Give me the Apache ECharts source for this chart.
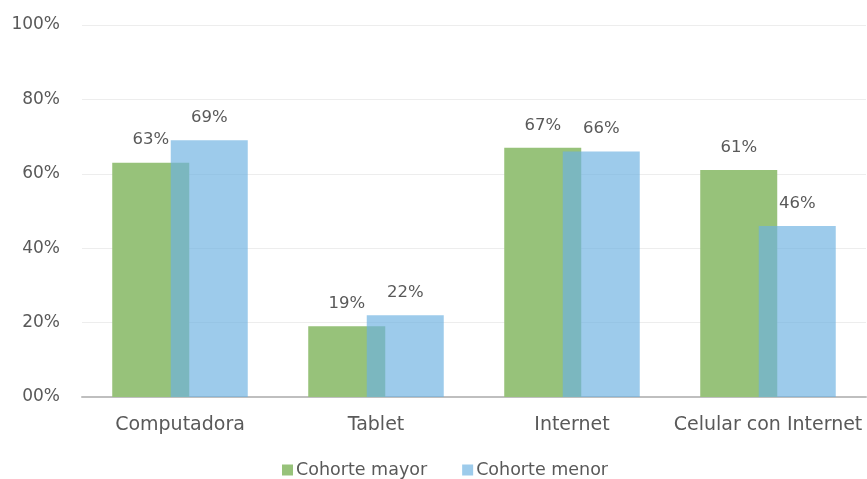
<!DOCTYPE html>
<html>
<head>
<meta charset="utf-8">
<script src="https://cdn.jsdelivr.net/npm/echarts@6/dist/echarts.min.js"></script>
<style>
  html, body { margin: 0; padding: 0; background: #fff; }
  #chart { width: 867px; height: 479px; }
</style>
</head>
<body>
<div id="chart"></div>
<script>
/* datos */
var categorias = ['Computadora', 'Tablet', 'Internet', 'Celular con Internet'];
var cohorteMayor = [63, 19, 67, 61];
var cohorteMenor = [69, 22, 66, 46];
var ticksY = [0, 20, 40, 60, 80, 100];

var grisTexto = '#595959';
var fuente = 'DejaVu Sans';

function etiquetaPct(v) {
    return v === 0 ? '00%' : v + '%';
}

var chart = echarts.init(document.getElementById('chart'));

var option = {
    animation: false,
    textStyle: { fontFamily: fuente, color: grisTexto },
    grid: { left: 82, right: 1, top: 25, bottom: 82, containLabel: false },
    legend: {
        top: 456,
        left: 277,
        itemWidth: 11,
        itemHeight: 11,
        itemGap: 35,
        icon: 'rect',
        textStyle: { fontFamily: fuente, fontSize: 17.5, color: grisTexto, padding: [0, 0, 0, -2] },
        data: ['Cohorte mayor', 'Cohorte menor']
    },
    xAxis: {
        type: 'category',
        data: categorias,
        axisTick: { show: false },
        axisLine: { lineStyle: { color: '#BFBFBF', width: 2 } },
        axisLabel: { fontFamily: fuente, fontSize: 19, color: grisTexto, margin: 19, interval: 0 }
    },
    yAxis: {
        type: 'value',
        min: ticksY[0],
        max: ticksY[ticksY.length - 1],
        interval: 20,
        axisLine: { show: false },
        axisTick: { show: false },
        splitLine: { lineStyle: { color: '#EDEDED', width: 1 } },
        axisLabel: {
            fontFamily: fuente, fontSize: 17, color: grisTexto, margin: 22,
            formatter: function (v) { return etiquetaPct(v); }
        }
    },
    series: [
        {
            name: 'Cohorte mayor',
            type: 'bar',
            data: cohorteMayor,
            barWidth: 77,
            barGap: '-24%',
            itemStyle: { color: '#97C27A' },
            label: {
                show: true, position: 'top', distance: 14,
                fontFamily: fuente, fontSize: 16.5, color: grisTexto,
                formatter: function (p) { return p.value + '%'; }
            }
        },
        {
            name: 'Cohorte menor',
            type: 'bar',
            data: cohorteMenor,
            barWidth: 77,
            barGap: '-24%',
            itemStyle: { color: 'rgba(109,178,225,0.67)' },
            label: {
                show: true, position: 'top', distance: 14,
                fontFamily: fuente, fontSize: 16.5, color: grisTexto,
                formatter: function (p) { return p.value + '%'; }
            }
        }
    ]
};

chart.setOption(option);
</script>
</body>
</html>
